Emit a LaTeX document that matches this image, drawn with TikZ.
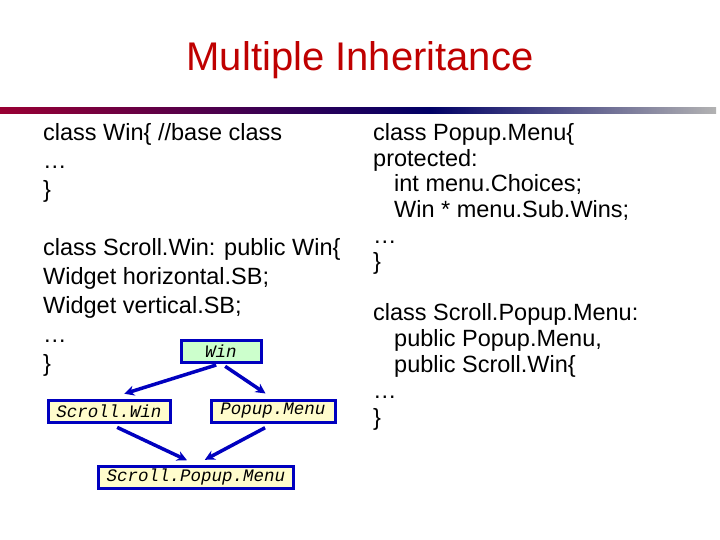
\documentclass[tikz,border=0pt]{standalone}
\usepackage{fontspec}
\setmainfont{Liberation Sans}
\setmonofont{Liberation Mono}
\usetikzlibrary{arrows.meta}
\pgfdeclarehorizontalshading{rulebar}{100bp}{color(0bp)=(orange!90!yellow); color(5bp)=(red!90!black); color(25bp)=(purple!80!black); color(55bp)=(blue!40!black); color(75bp)=(black!30!white); color(100bp)=(white)}
\tikzset{
  code/.style={anchor=west,align=left,font=\fontsize{23.5}{#1}\selectfont,inner sep=0pt},
  cls/.style={draw=blue!75!black,line width=3pt,fill=yellow!20,font=\fontsize{17.5}{20}\ttfamily\itshape,minimum height=22pt,inner sep=2pt},
  ->/.style={draw=blue!75!black,line width=3.5pt,-{Stealth[length=10pt,width=10pt]}}
}

\begin{document}
\begin{tikzpicture}[x=1pt,y=-1pt]
    \useasboundingbox (0,0) rectangle (720,540);
    \node (title) at (360,60) {\fontsize{40}{42}\selectfont\color{red!75!black}Multiple Inheritance};
    \shade[shading=rulebar] (0,108) rectangle (716,114);
    % left column
    \node[code=28.5,anchor=north west] (winA) at (43,123) {class Win\{ //base class\\\dots\\\}};
    \node[code=29,anchor=north west] (swA) at (43,238) {class Scroll.Win: public Win\{\\Widget horizontal.SB;\\Widget vertical.SB;\\\dots\\\}};
    % right column
    \node[code=25.8,anchor=north west] (pmA) at (373,123) {class Popup.Menu\{\\protected:\\\hspace{21pt}int menu.Choices;\\\hspace{21pt}Win * menu.Sub.Wins;\\\dots\\\}};
    \node[code=26.2,anchor=north west] (spA) at (373,303) {class Scroll.Popup.Menu:\\\hspace{21pt}public Popup.Menu,\\\hspace{21pt}public Scroll.Win\{\\\dots\\\}};
    % class graph
    \node[cls,fill=green!20,minimum width=80pt] (win) at (221,351) {Win};
    \node[cls,minimum width=122pt] (sw) at (109,411) {Scroll.Win};
    \node[cls,minimum width=124pt] (pm) at (273,411) {Popup.Menu};
    \node[cls,minimum width=195pt] (spm) at (196,477) {Scroll.Popup.Menu};
    \draw[->,shorten <=5pt,shorten >=16pt] (win.south) -- (sw.north);
    \draw[->,shorten <=5pt,shorten >=9pt] (win.south) -- (pm.north);
    \draw[->,shorten <=9pt,shorten >=10pt] (sw.south) -- (spm.north);
    \draw[->,shorten <=9pt,shorten >=10pt] (pm.south) -- (spm.north);
\end{tikzpicture}
\end{document}
